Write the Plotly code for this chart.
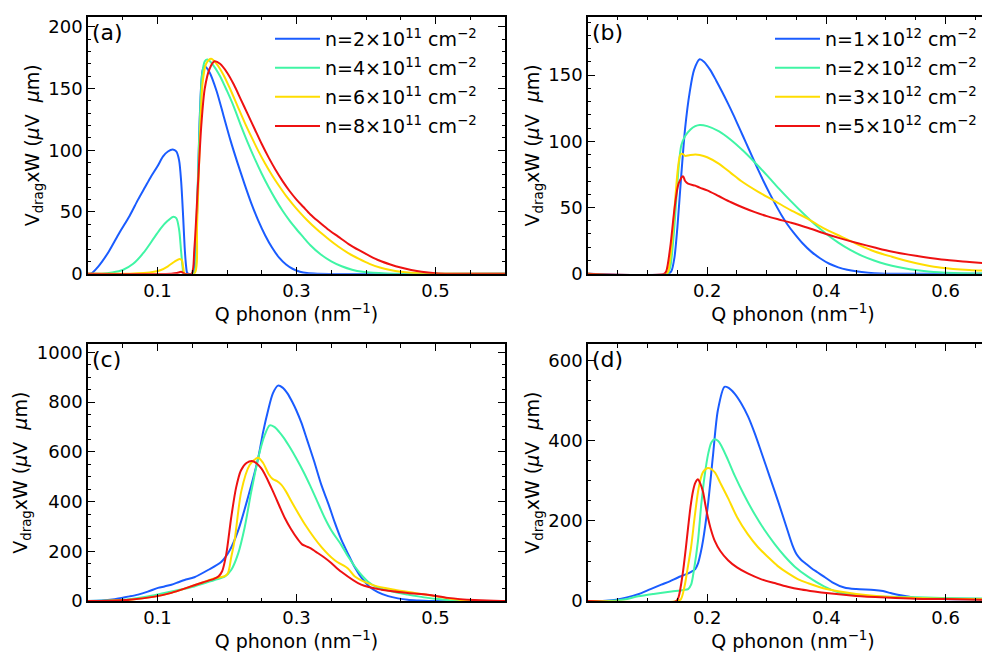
import plotly.graph_objects as go

FONT = "DejaVu Sans"
COLORS = ["#1a5cff", "#40f5a5", "#ffdd00", "#ee1111"]

# ---------------- panel (a) ----------------
A_NAMES = ["n=2×10<sup>11</sup> cm<sup>−2</sup>", "n=4×10<sup>11</sup> cm<sup>−2</sup>",
           "n=6×10<sup>11</sup> cm<sup>−2</sup>", "n=8×10<sup>11</sup> cm<sup>−2</sup>"]
A_Q1 = [0.0, 0.004, 0.015, 0.03, 0.045, 0.06, 0.072, 0.082, 0.09, 0.1, 0.108, 0.115, 0.122, 0.127,
        0.131, 0.134, 0.137, 0.139, 0.141, 0.1425, 0.144, 0.150, 0.153, 0.157, 0.161, 0.165, 0.168,
        0.175, 0.185, 0.195, 0.205, 0.215, 0.225, 0.235, 0.245, 0.255, 0.265, 0.275, 0.285, 0.295,
        0.305, 0.315, 0.33, 0.6]
A_V1 = [0, 0, 6, 18, 33, 47, 60, 70, 78, 87, 95, 99, 100.5, 99, 92, 75, 45, 22, 7, 1, 0, 0, 4,
        50, 130, 165, 168, 163, 148, 128, 108, 90, 73, 57, 43, 31, 21, 13, 7.5, 3.8, 1.6, 0.5, 0, 0]
A_Q2 = [0.0, 0.02, 0.035, 0.05, 0.065, 0.08, 0.095, 0.105, 0.115, 0.122, 0.127, 0.131, 0.134,
        0.136, 0.138, 0.152, 0.156, 0.160, 0.164, 0.168, 0.172, 0.18, 0.19, 0.20, 0.21, 0.22, 0.23,
        0.24, 0.25, 0.26, 0.27, 0.28, 0.29, 0.30, 0.31, 0.32, 0.335, 0.35, 0.365, 0.38, 0.395, 0.41,
        0.43, 0.45, 0.6]
A_V2 = [0, 0, 1, 3, 8, 17, 29, 37, 43, 46, 45, 36, 18, 6, 0, 0, 40, 110, 160, 172, 173.5, 169,
        160, 148, 135, 120, 106, 93, 81, 70, 60, 51, 43, 36, 29.5, 23, 15.5, 10, 6, 3.2, 1.5, 0.7,
        0.2, 0, 0]
A_Q3 = [0.0, 0.06, 0.08, 0.095, 0.105, 0.115, 0.125, 0.132, 0.135, 0.137, 0.139, 0.153, 0.157,
        0.161, 0.165, 0.170, 0.177, 0.185, 0.195, 0.205, 0.215, 0.225, 0.235, 0.245, 0.255, 0.265,
        0.275, 0.285, 0.295, 0.305, 0.315, 0.33, 0.345, 0.36, 0.375, 0.39, 0.405, 0.42, 0.435, 0.45,
        0.465, 0.48, 0.5, 0.6]
A_V3 = [0, 0, 0.5, 1.5, 3, 6, 10, 12, 11, 5, 0, 0, 40, 110, 155, 170, 174, 170, 161, 149, 136, 123,
        111, 99.5, 89, 79.5, 71, 63, 56, 49.5, 43.5, 35.5, 28.5, 22, 16.5, 12, 8, 5, 3, 1.6, 0.7,
        0.2, 0, 0]
A_Q4 = [0.0, 0.12, 0.128, 0.134, 0.137, 0.139, 0.149, 0.153, 0.158, 0.163, 0.168, 0.175, 0.182,
        0.19, 0.20, 0.21, 0.22, 0.23, 0.24, 0.25, 0.26, 0.27, 0.28, 0.29, 0.30, 0.31, 0.32, 0.33,
        0.345, 0.36, 0.375, 0.39, 0.405, 0.42, 0.435, 0.45, 0.465, 0.48, 0.5, 0.52, 0.6]
A_V4 = [0, 0, 0.5, 1.5, 0.5, 0, 0, 20, 70, 120, 150, 166, 172, 170, 163, 153, 141, 129, 117, 105,
        94, 84, 75, 67, 60, 54, 48, 43, 36, 30, 24, 19, 14.5, 10.5, 7.5, 5, 3, 1.5, 0.4, 0, 0]

# ---------------- panel (b) ----------------
B_NAMES = ["n=1×10<sup>12</sup> cm<sup>−2</sup>", "n=2×10<sup>12</sup> cm<sup>−2</sup>",
           "n=3×10<sup>12</sup> cm<sup>−2</sup>", "n=5×10<sup>12</sup> cm<sup>−2</sup>"]
B_Q1 = [0.0, 0.135, 0.140, 0.145, 0.150, 0.1566, 0.163, 0.1706, 0.178, 0.1874, 0.195, 0.205, 0.215,
        0.225, 0.235, 0.245, 0.255, 0.265, 0.275, 0.285, 0.295, 0.305, 0.315, 0.325, 0.335, 0.345,
        0.36, 0.375, 0.39, 0.405, 0.42, 0.435, 0.45, 0.47, 0.49, 0.51, 0.7]
B_V1 = [0, 0, 2, 12, 35, 75, 110, 137, 154, 162, 160, 154, 146, 137.5, 128.5, 119, 109, 99, 89, 79,
        69.5, 60.5, 52, 44, 37, 31, 23, 16.5, 11.5, 7.5, 4.8, 3, 1.8, 0.8, 0.2, 0, 0]
B_Q2 = [0.0, 0.133, 0.138, 0.143, 0.148, 0.152, 0.1566, 0.163, 0.172, 0.18, 0.1874, 0.20, 0.22,
        0.24, 0.26, 0.28, 0.30, 0.32, 0.34, 0.36, 0.38, 0.40, 0.42, 0.44, 0.46, 0.48, 0.50, 0.52,
        0.54, 0.56, 0.58, 0.60, 0.65, 0.7]
B_V2 = [0, 0, 5, 25, 55, 80, 97, 104, 109, 111.5, 112.4, 111.5, 107.5, 101, 93, 84, 74.5, 64.5, 55,
        46, 37.5, 30, 23.5, 18, 13.5, 10, 7.2, 5, 3.4, 2.2, 1.3, 0.8, 0.2, 0]
B_Q3 = [0.0, 0.132, 0.137, 0.142, 0.147, 0.151, 0.155, 0.159, 0.163, 0.17, 0.18, 0.1874, 0.2, 0.22,
        0.24, 0.257, 0.285, 0.313, 0.34, 0.369, 0.395, 0.425, 0.453, 0.481, 0.51, 0.537, 0.565,
        0.593, 0.64, 0.688]
B_V3 = [0, 0, 8, 30, 60, 80, 90, 90.5, 89, 89.5, 90, 89.7, 88, 83, 76, 70, 62, 55, 48, 41.5, 34.5,
        28, 22, 16.8, 12.8, 9.4, 6.6, 4.5, 2.8, 2]
B_Q4 = [0.0, 0.128, 0.1314, 0.138, 0.1454, 0.152, 0.1594, 0.163, 0.1678, 0.18, 0.1874, 0.20, 0.22,
        0.24, 0.26, 0.28, 0.30, 0.32, 0.341, 0.37, 0.397, 0.425, 0.453, 0.481, 0.509, 0.55, 0.593,
        0.64, 0.688]
B_V4 = [0, 0, 2, 20, 50, 68, 73.7, 70, 68, 66.5, 65, 63, 58.5, 54, 50, 46.5, 43.5, 41, 38.5, 34.5,
        30.4, 26.5, 23, 19.8, 16.8, 13.5, 10.7, 8.8, 7]

# ---------------- panel (c) ----------------
C_Q1 = [0.0, 0.02, 0.035, 0.048, 0.06, 0.072, 0.086, 0.1007, 0.11, 0.12, 0.13, 0.139, 0.153,
        0.1727, 0.192, 0.204, 0.216, 0.23, 0.2446, 0.252, 0.259, 0.266, 0.2734, 0.28, 0.287, 0.294,
        0.300, 0.307, 0.315, 0.325, 0.336, 0.346, 0.355, 0.364, 0.374, 0.384, 0.395, 0.405, 0.417,
        0.432, 0.446, 0.46, 0.475, 0.49, 0.6]
C_V1 = [0, 2, 6, 13, 19, 26, 38, 53, 59, 66, 76, 85, 96, 125, 158, 204, 283, 415, 572, 680, 765,
        835, 866, 858, 835, 800, 765, 717, 650, 565, 465, 390, 316, 250, 191, 135, 88, 58, 36, 20,
        11, 5, 2, 0, 0]
C_Q2 = [0.0, 0.03, 0.05, 0.072, 0.096, 0.12, 0.153, 0.182, 0.1966, 0.206, 0.216, 0.2254, 0.235,
        0.247, 0.254, 0.2614, 0.268, 0.275, 0.282, 0.29, 0.30, 0.31, 0.32, 0.33, 0.3405, 0.35,
        0.3645, 0.374, 0.385, 0.395, 0.403, 0.415, 0.432, 0.446, 0.46, 0.475, 0.489, 0.503, 0.518,
        0.535, 0.556, 0.6]
C_V2 = [0, 2, 5, 13, 24, 39, 59, 85, 98, 125, 191, 296, 441, 599, 665, 706, 700, 680, 655, 620,
        572, 520, 462, 400, 335, 285, 225, 180, 135, 100, 78, 57, 42, 33, 26, 19, 13, 8, 4, 1, 0, 0]
C_Q3 = [0.0, 0.03, 0.06, 0.096, 0.12, 0.144, 0.165, 0.182, 0.1966, 0.2014, 0.206, 0.211, 0.2206,
        0.2326, 0.2446, 0.252, 0.26, 0.266, 0.272, 0.278, 0.285, 0.2926, 0.312, 0.336, 0.355, 0.374,
        0.384, 0.4125, 0.441, 0.47, 0.499, 0.528, 0.556, 0.6]
C_V3 = [0, 1, 5, 18, 33, 55, 75, 92, 100, 113, 175, 245, 442, 547, 576, 555, 510, 490, 482, 468,
        440, 401, 309, 217, 164, 131, 99, 62, 46, 33, 20, 7, 0, 0]
C_Q4 = [0.0, 0.03, 0.06, 0.096, 0.12, 0.144, 0.165, 0.182, 0.188, 0.193, 0.199, 0.206, 0.213,
        0.22, 0.228, 0.2374, 0.2494, 0.264, 0.283, 0.292, 0.302, 0.308, 0.314, 0.32, 0.328, 0.34,
        0.35, 0.3645, 0.393, 0.422, 0.46, 0.489, 0.518, 0.556, 0.595, 0.6]
C_V4 = [0, 1, 5, 18, 33, 55, 75, 90, 100, 120, 190, 335, 455, 525, 555, 562, 533, 454, 335, 290,
        248, 228, 220, 213, 198, 175, 153, 118, 66, 46, 33, 26, 13, 4, 0, 0]

# ---------------- panel (d) ----------------
D_Q1 = [0.0, 0.017, 0.04, 0.056, 0.075, 0.0895, 0.105, 0.123, 0.138, 0.151, 0.163, 0.173, 0.18,
        0.1846, 0.189, 0.193, 0.2013, 0.2097, 0.218, 0.229, 0.236, 0.246, 0.257, 0.2685, 0.28, 0.291,
        0.305, 0.319, 0.333, 0.343, 0.35, 0.357, 0.365, 0.375, 0.385, 0.396, 0.41, 0.43, 0.45, 0.48,
        0.495, 0.508, 0.522, 0.537, 0.554, 0.593, 0.64, 0.688]
D_V1 = [0, 0, 2, 6, 13, 20, 30, 41, 50, 59, 66, 73, 80, 94, 120, 151, 241, 363, 477, 535, 532, 518,
        494, 461, 418, 371, 310, 249, 185, 140, 117, 104, 94, 82, 72, 61, 47, 34, 30, 28, 25, 20,
        15, 11.5, 6, 5, 4.5, 4]
D_Q2 = [0.0, 0.03, 0.06, 0.084, 0.11, 0.14, 0.16, 0.168, 0.173, 0.178, 0.1846, 0.19, 0.1958, 0.202,
        0.207, 0.2125, 0.218, 0.2237, 0.235, 0.246, 0.262, 0.28, 0.296, 0.313, 0.33, 0.347, 0.369,
        0.396, 0.425, 0.45, 0.48, 0.537, 0.593, 0.688]
D_V2 = [0, 0, 4, 12, 18, 24, 28, 30, 41, 80, 151, 240, 314, 370, 396, 404, 400, 388, 352, 314, 265,
        216, 178, 143, 112, 86, 61, 37, 20, 15, 12, 10, 8, 6]
D_Q3 = [0.0, 0.15, 0.156, 0.162, 0.167, 0.173, 0.179, 0.1846, 0.189, 0.193, 0.2013, 0.2125, 0.222,
        0.235, 0.25, 0.268, 0.285, 0.302, 0.318, 0.336, 0.352, 0.369, 0.4, 0.45, 0.5, 0.55, 0.6,
        0.688]
D_V3 = [0, 0, 5, 37, 80, 135, 210, 273, 305, 322, 332, 322, 295, 257, 210, 167, 135, 110, 88, 69,
        55, 45, 30, 18, 11, 8, 6, 4]
D_Q4 = [0.0, 0.148, 0.152, 0.159, 0.164, 0.168, 0.172, 0.176, 0.18, 0.1846, 0.188, 0.193, 0.197,
        0.2013, 0.206, 0.2125, 0.222, 0.235, 0.25, 0.268, 0.29, 0.313, 0.335, 0.358, 0.38, 0.4, 0.45,
        0.5, 0.55, 0.6, 0.688]
D_V4 = [0, 0, 10, 69, 130, 184, 235, 273, 295, 304, 295, 273, 240, 208, 180, 151, 125, 102, 84, 69,
        55, 45, 36, 29, 24, 20, 13, 9, 6, 5, 3]

fig = go.Figure()


def add(q, v, color, name, xa, ya, legend=None, group=None):
    fig.add_trace(go.Scatter(
        x=q, y=v, mode="lines", name=name or "",
        line=dict(color=color, width=2, shape="spline", smoothing=0.8),
        xaxis=xa, yaxis=ya, showlegend=legend is not None,
        legend=legend if legend else "legend", legendgroup=group, hoverinfo="skip"))


for i, (q, v) in enumerate([(A_Q1, A_V1), (A_Q2, A_V2), (A_Q3, A_V3), (A_Q4, A_V4)]):
    add(q, v, COLORS[i], A_NAMES[i], "x", "y", "legend", "a%d" % i)
for i, (q, v) in enumerate([(B_Q1, B_V1), (B_Q2, B_V2), (B_Q3, B_V3), (B_Q4, B_V4)]):
    add(q, v, COLORS[i], B_NAMES[i], "x2", "y2", "legend2", "b%d" % i)
for i, (q, v) in enumerate([(C_Q1, C_V1), (C_Q2, C_V2), (C_Q3, C_V3), (C_Q4, C_V4)]):
    add(q, v, COLORS[i], None, "x3", "y3")
for i, (q, v) in enumerate([(D_Q1, D_V1), (D_Q2, D_V2), (D_Q3, D_V3), (D_Q4, D_V4)]):
    add(q, v, COLORS[i], None, "x4", "y4")

W, H = 990, 658
XL = [80 / W, 497 / W]
XR = [580 / W, 1.0]
YT = [1 - 268 / H, 1 - 6 / H]
YB = [1 - 602 / H, 1 - 340 / H]

tickfont = dict(family=FONT, size=18, color="black")
titlefont = dict(family=FONT, size=19, color="black")
legfont = dict(family=FONT, size=19, color="black")
YTITLE = "V<sub>drag</sub>xW (<i>μ</i>V  <i>μ</i>m)"
XTITLE = "Q phonon (nm<sup>−1</sup>)"


def xaxis(domain, anchor, rng, tickvals, mirror):
    return dict(domain=domain, anchor=anchor, range=rng, tickmode="array", tickvals=tickvals,
                ticktext=[("%g" % t) for t in tickvals],
                showline=True, linecolor="black", linewidth=1.5, mirror=mirror,
                ticks="inside", ticklen=7, tickwidth=1.2, tickcolor="black",
                minor=dict(tick0=0, dtick=0.05, ticks="inside", ticklen=3.5, tickwidth=1,
                           tickcolor="black"),
                showgrid=False, zeroline=False, tickfont=tickfont,
                title=dict(text=XTITLE, font=titlefont, standoff=2))


def yaxis(domain, anchor, rng, dtick, mdtick, mirror):
    return dict(domain=domain, anchor=anchor, range=rng, dtick=dtick, tick0=0,
                showline=True, linecolor="black", linewidth=1.5, mirror=mirror,
                ticks="inside", ticklen=7, tickwidth=1.2, tickcolor="black",
                minor=dict(tick0=0, dtick=mdtick, ticks="inside", ticklen=3.5, tickwidth=1,
                           tickcolor="black"),
                showgrid=False, zeroline=False, tickfont=tickfont,
                title=dict(text=YTITLE, font=titlefont, standoff=4))


fig.update_layout(
    width=W, height=H, margin=dict(l=0, r=0, t=0, b=0),
    paper_bgcolor="white", plot_bgcolor="white",
    font=dict(family=FONT, size=16, color="black"),
    xaxis=xaxis(XL, "y", [0, 0.6], [0.1, 0.3, 0.5], "ticks"),
    yaxis=yaxis(YT, "x", [0, 208], 50, 10, "ticks"),
    xaxis2=xaxis(XR, "y2", [0, 0.688], [0.2, 0.4, 0.6], "ticks"),
    yaxis2=yaxis(YT, "x2", [0, 194], 50, 10, False),
    xaxis3=xaxis(XL, "y3", [0, 0.6], [0.1, 0.3, 0.5], "ticks"),
    yaxis3=yaxis(YB, "x3", [0, 1032], 200, 50, "ticks"),
    xaxis4=xaxis(XR, "y4", [0, 0.688], [0.2, 0.4, 0.6], "ticks"),
    yaxis4=yaxis(YB, "x4", [0, 641], 200, 50, False),
    legend=dict(x=262 / W, y=1 - 9 / H, xanchor="left", yanchor="top", bgcolor="rgba(0,0,0,0)",
                font=legfont, itemwidth=45, tracegroupgap=1.4),
    legend2=dict(x=762 / W, y=1 - 9 / H, xanchor="left", yanchor="top", bgcolor="rgba(0,0,0,0)",
                 font=legfont, itemwidth=45, tracegroupgap=1.4),
    showlegend=True,
)

for lab, xr, yr in [("(a)", "x", "y"), ("(b)", "x2", "y2"), ("(c)", "x3", "y3"), ("(d)", "x4", "y4")]:
    fig.add_annotation(text=lab, xref=xr + " domain", yref=yr + " domain", x=0.005, y=0.94,
                       xanchor="left", yanchor="middle", showarrow=False,
                       font=dict(family=FONT, size=22, color="black"))

fig.write_html("out.html")
